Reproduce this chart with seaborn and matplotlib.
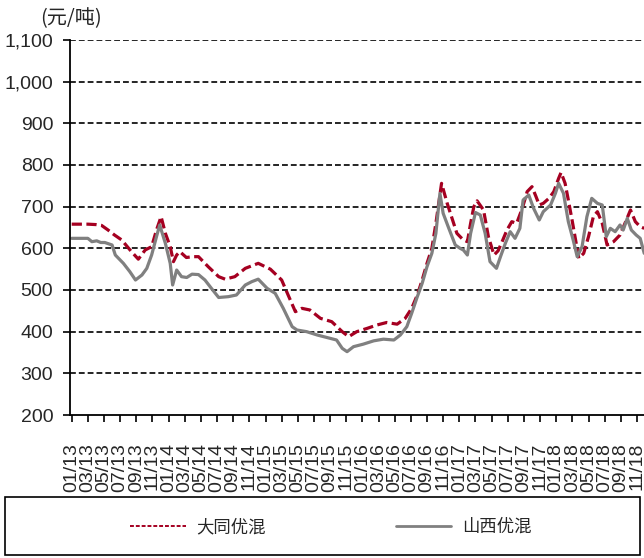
import matplotlib
matplotlib.use("Agg")
import matplotlib.pyplot as plt
from matplotlib.lines import Line2D
from matplotlib.patches import Rectangle
import seaborn as sns
import pandas as pd

# ---- data (x = months since Jan 2013) ----
datong_x = [0, 1, 2, 3, 3.7, 4.5, 5.3, 6.2, 7.4, 8.25, 9.1, 9.9, 10.5, 11.07, 11.6, 12.2, 12.6, 13, 13.4,
            14.2, 15, 15.7, 16.9, 18.2, 19, 20.2, 21.5, 22.3, 23.1, 24.6, 26, 26.8, 27.7, 28.5, 29.5,
            30.8, 32.2, 33.5, 34.3, 35.3, 36.6, 37.8, 39, 40.3, 41.3, 42.1, 42.8, 43.4, 44, 44.6, 45.1,
            45.8, 46.5, 47.1, 47.7, 48.5, 49, 49.4, 49.8, 50.2, 51, 51.6, 52.3, 52.8, 53.3, 53.9, 54.5,
            55.1, 55.8, 56.4, 57, 57.5, 57.9, 58.4, 59.1, 59.7, 60.3, 60.6, 61.1, 61.5, 62, 62.4, 62.8,
            63.4, 64, 64.6, 65.1, 65.7, 66.3, 67.1, 67.9, 68.6, 69.2, 69.8, 70.4, 70.9]
datong_v = [658, 658, 658, 657, 655, 644, 632, 620, 592, 574, 596, 604, 644, 676, 636, 604, 568, 584, 592,
            578, 580, 580, 556, 532, 526, 532, 552, 558, 564, 550, 524, 488, 448, 456, 452,
            432, 424, 400, 388, 400, 408, 416, 422, 418, 432, 456, 488, 524, 564, 600, 660,
            756, 708, 672, 636, 620, 616, 660, 700, 714, 692, 628, 584, 594, 616, 644, 664,
            660, 696, 736, 748, 724, 704, 708, 720, 736, 768, 782, 756, 716, 664, 620, 576,
            588, 628, 676, 688, 660, 608, 616, 632, 664, 692, 664, 652, 648]

shanxi_x = [0, 1, 2, 2.5, 3.1, 3.6, 4.1, 5, 5.4, 6.4, 7.2, 7.9, 8.7, 9.3, 9.9, 10.5, 10.9, 11.6, 12.2,
            12.5, 13, 13.6, 14.25, 14.9, 15.7, 16.5, 17.3, 18.2, 19.4, 20.4, 21.5, 22.3, 23.1, 24.2,
            25.2, 26.2, 27.3, 27.9, 29.1, 30.4, 31.6, 32.8, 33.5, 34.1, 34.9, 36.1, 37.4, 38.6, 39.9,
            40.7, 41.5, 42.1, 42.8, 43.4, 44, 44.6, 45.1, 45.6, 46, 46.7, 47.5, 48.1, 48.5, 49, 49.4,
            50, 50.6, 51.2, 51.8, 52.6, 53.1, 53.7, 54.3, 54.9, 55.5, 55.9, 56.6, 57.2, 57.9, 58.4,
            59.3, 59.9, 60.3, 60.9, 61.5, 62.1, 62.6, 63.2, 63.8, 64.4, 65.1, 65.7, 66.2, 66.7, 67.3,
            67.9, 68.3, 68.8, 69.3, 69.9, 70.4, 70.9]
shanxi_v = [624, 624, 624, 616, 618, 614, 614, 608, 584, 564, 544, 524, 536, 552, 584, 628, 656, 612, 564,
            512, 548, 532, 530, 538, 537, 524, 504, 482, 484, 488, 512, 520, 526, 504,
            492, 456, 412, 404, 400, 392, 386, 380, 360, 352, 364, 370, 378, 382, 380,
            392, 412, 444, 484, 516, 556, 588, 636, 732, 684, 648, 608, 600, 596, 584, 636,
            686, 680, 636, 568, 552, 580, 612, 640, 624, 648, 716, 728, 696, 668, 688,
            704, 732, 756, 732, 664, 620, 580, 604, 676, 720, 708, 704, 628, 648, 640,
            656, 644, 672, 644, 632, 624, 588]

series_names = ["大同优混", "山西优混"]
tick_months = list(range(0, 72, 2))
tick_labels = [f"{m % 12 + 1:02d}/{13 + m // 12}" for m in tick_months]
y_ticks = list(range(200, 1101, 100))
unit_label = "(元/吨)"

colors = {"大同优混": "#A50021", "山西优混": "#808080"}

df = pd.concat([
    pd.DataFrame({"m": datong_x, "v": datong_v, "s": series_names[0]}),
    pd.DataFrame({"m": shanxi_x, "v": shanxi_v, "s": series_names[1]}),
])

sns.set_style("white")
plt.rcParams["font.family"] = ["Liberation Sans", "Noto Sans CJK SC", "DejaVu Sans"]

fig = plt.figure(figsize=(6.44, 5.58), dpi=100)
ax = fig.add_axes([70 / 644, (558 - 415) / 558, (662 - 70) / 644, (415 - 40) / 558])

sns.lineplot(data=df, x="m", y="v", hue="s", style="s", hue_order=series_names, style_order=series_names,
             palette=colors, dashes={"大同优混": (3.2, 1.4), "山西优混": ""}, estimator=None, sort=True,
             linewidth=2.3, legend=False, ax=ax)

ax.set_xlim(-0.21, 73.1)
ax.set_ylim(200, 1100)
ax.set_yticks(y_ticks)
ax.set_yticklabels([f"{v:,}" for v in y_ticks], fontsize=14)
ax.set_xticks(tick_months)
ax.set_xticklabels(tick_labels, rotation=90, fontsize=14)
ax.set_xlabel("")
ax.set_ylabel("")

for v in y_ticks[1:]:
    ax.axhline(v, color="black", linestyle=(0, (3.5, 1.8)), linewidth=1.2, zorder=0)

for side in ["top", "right"]:
    ax.spines[side].set_visible(False)
for side in ["left", "bottom"]:
    ax.spines[side].set_color("black")
    ax.spines[side].set_linewidth(1.3)
ax.tick_params(axis="y", direction="out", length=5, width=1.2, color="black", pad=7, left=True)
ax.tick_params(axis="x", direction="out", length=5, width=1.2, color="black", pad=15, bottom=True)

fig.text(40 / 644, 1 - 19 / 558, unit_label, fontsize=14.5, va="center", ha="left",
         family=["Noto Sans CJK SC", "DejaVu Sans"])

# legend box
fig.patches.append(Rectangle((5 / 644, 3 / 558), 635 / 644, 58 / 558, transform=fig.transFigure,
                             fill=False, edgecolor="black", linewidth=1.2))
handles = [Line2D([], [], color=colors["大同优混"], linestyle=(0, (2, 1)), linewidth=1.4),
           Line2D([], [], color=colors["山西优混"], linestyle="-", linewidth=2)]
leg = fig.legend(handles, series_names, loc="center left", bbox_to_anchor=(130 / 644, 31 / 558),
                 frameon=False, ncol=2, handlelength=3.2, handletextpad=0.6, columnspacing=7.5,
                 prop={"family": ["Noto Sans CJK SC"], "size": 12.5}, borderpad=0, borderaxespad=0)

fig.savefig("out.png", dpi=100)
